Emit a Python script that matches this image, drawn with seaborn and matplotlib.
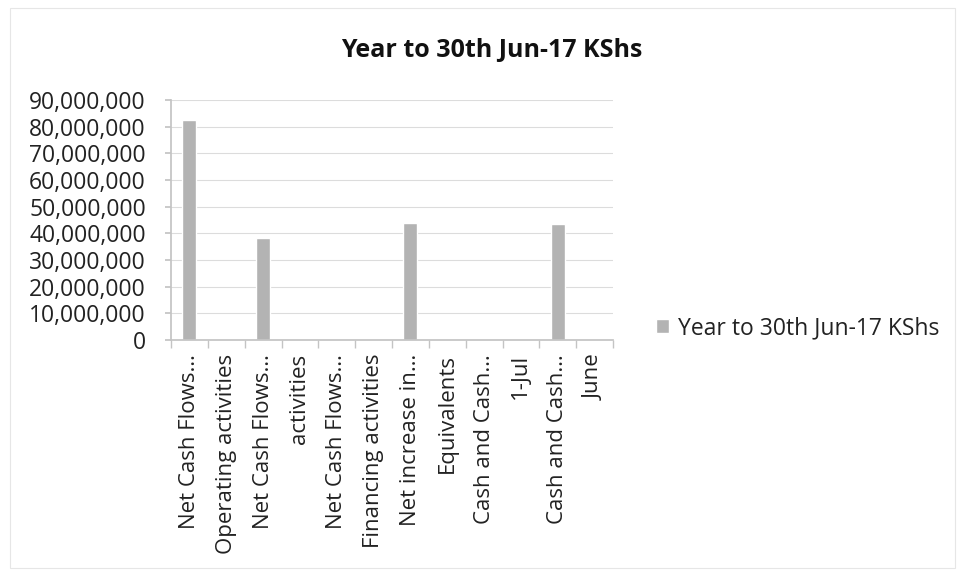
import matplotlib
matplotlib.use("Agg")
import matplotlib.pyplot as plt
import seaborn as sns
import pandas as pd
from matplotlib.ticker import FuncFormatter, MultipleLocator
from matplotlib.patches import Rectangle

categories = [
    "Net Cash Flows…", "Operating activities", "Net Cash Flows…", "activities",
    "Net Cash Flows…", "Financing activities", "Net increase in…", "Equivalents",
    "Cash and Cash…", "1-Jul", "Cash and Cash…", "June",
]
values = [82500000, 0, 38100000, 0, 0, 0, 44000000, 0, 0, 0, 43600000, 0]
series_name = "Year to 30th Jun-17 KShs"
title = "Year to 30th Jun-17 KShs"

sns.set_theme(style="white")
plt.rcParams['font.family'] = ['Open Sans', 'DejaVu Sans']

keys = [f"c{i}" for i in range(len(categories))]
df = pd.DataFrame({"key": keys, "value": values, "series": series_name})

fig = plt.figure(figsize=(9.6, 5.76), dpi=100)
ax = fig.add_axes([171/960, 1-340/576, (613-171)/960, (340-100)/576])

sns.barplot(data=df, x="key", y="value", hue="series", order=keys,
            palette=["#b3b3b3"], width=0.38, ax=ax, saturation=1, legend=True)

ax.set_ylim(0, 90000000)
ax.yaxis.set_major_locator(MultipleLocator(10000000))
ax.yaxis.set_major_formatter(FuncFormatter(lambda v, p: f"{int(v):,}"))
ax.set_xlim(-0.5, len(categories) - 0.5)
ax.grid(axis="y", color="#dcdcdc", linewidth=0.8)
ax.set_axisbelow(True)
for s in ["top", "right"]:
    ax.spines[s].set_visible(False)
ax.spines["left"].set_color("#c4c4c4")
ax.spines["bottom"].set_color("#c4c4c4")
ax.set_xlabel("")
ax.set_ylabel("")

ax.set_xticks(range(len(categories)))
ax.set_xticklabels(categories, rotation=90, va="top", ha="center", fontsize=16, color="#222222")
ax.tick_params(axis="x", length=0, pad=10)
# minor ticks between categories
ax.set_xticks([i - 0.5 for i in range(len(categories) + 1)], minor=True)
ax.tick_params(axis="x", which="minor", length=6, color="#c4c4c4", direction="out", bottom=True)
ax.tick_params(axis="y", labelsize=16.5, colors="#222222", length=4, left=True, color="#c4c4c4", pad=14)

fig.text(492/960, 1-50/576, title, ha="center", va="center", fontsize=18, fontweight="bold", color="#111111")

leg = ax.legend(loc="center left", bbox_to_anchor=(656/960, 1-328/576), bbox_transform=fig.transFigure,
                frameon=False, fontsize=16.5, handlelength=0.55, handleheight=0.55, handletextpad=0.4,
                borderpad=0, borderaxespad=0)
for t in leg.get_texts():
    t.set_color("#222222")

fig.patches.append(Rectangle((10/960, 8/576), 945/960, 560/576, transform=fig.transFigure,
                             fill=False, edgecolor="#e6e6e6", linewidth=0.8))

fig.savefig("out.png", dpi=100)
